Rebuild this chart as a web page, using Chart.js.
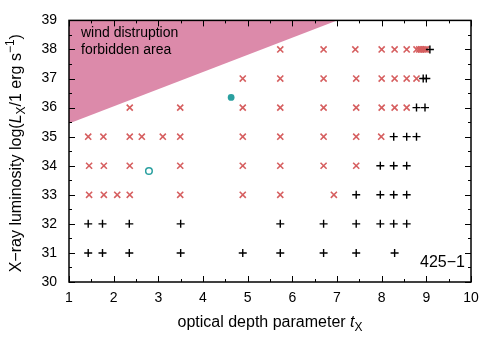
<!DOCTYPE html>
<html>
<head>
<meta charset="utf-8">
<script src="https://cdn.jsdelivr.net/npm/chart.js@4.4.1/dist/chart.umd.min.js"></script>
<style>
  html, body { margin: 0; padding: 0; background: #fff; }
  #wrap { width: 500px; height: 350px; }
</style>
</head>
<body>
<div id="wrap"><canvas id="depthChart" width="500" height="350"></canvas></div>
<script>
// luminosity levels log(Lx) and the tX values found at each level
const levels = [31, 32, 33, 34, 35, 36, 37, 38];
const crossT = [
  [],
  [],
  [1.45, 1.78, 2.08, 2.36, 3.49, 4.89, 5.73, 6.93],
  [1.45, 1.78, 2.36, 3.49, 4.89, 5.73, 6.70, 7.43],
  [1.43, 1.77, 2.36, 2.63, 3.10, 3.49, 4.89, 5.73, 6.70, 7.43, 7.99],
  [2.36, 3.49, 4.89, 5.73, 6.70, 7.43, 8.00, 8.29, 8.56],
  [4.89, 5.73, 6.70, 7.43, 8.00, 8.29, 8.56, 8.78],
  [5.73, 6.70, 7.41, 8.00, 8.29, 8.56, 8.78, 8.84, 8.88, 8.92, 8.96, 9.00]
];
const plusT = [
  [1.43, 1.75, 2.35, 3.50, 4.89, 5.73, 6.70, 7.43, 8.29],
  [1.43, 1.75, 2.35, 3.50, 5.73, 6.70, 7.43, 7.97, 8.27, 8.56],
  [7.43, 7.97, 8.27, 8.56],
  [7.97, 8.27, 8.56],
  [8.27, 8.56, 8.78],
  [8.78, 8.97],
  [8.93, 9.00],
  [9.08]
];
const openCircle = [2.79, 33.82];
const filledCircle = [4.63, 36.35];
// edge of the forbidden area
const forbiddenT = [1, 7];
const forbiddenL = [35.45, 39];
const xTicks = [1, 2, 3, 4, 5, 6, 7, 8, 9, 10];
const yTicks = [30, 31, 32, 33, 34, 35, 36, 37, 38, 39];

const FONT = "'Liberation Sans', Arial, sans-serif";

function toPoints(tLists) {
  const pts = [];
  levels.forEach((l, i) => {
    tLists[i].forEach(t => pts.push({ x: t, y: l }));
  });
  return pts;
}

function drawRich(ctx, parts, x, y, size) {
  const small = Math.round(size * 0.72);
  let total = 0;
  parts.forEach(p => {
    const fs = (p.s === 'sub' || p.s === 'sup') ? small : size;
    ctx.font = (p.i ? 'italic ' : '') + fs + 'px ' + FONT;
    p.w = ctx.measureText(p.t).width;
    total += p.w;
  });
  let cx = x - total / 2;
  ctx.textAlign = 'left';
  ctx.textBaseline = 'alphabetic';
  parts.forEach(p => {
    const fs = (p.s === 'sub' || p.s === 'sup') ? small : size;
    ctx.font = (p.i ? 'italic ' : '') + fs + 'px ' + FONT;
    let dy = 0;
    if (p.s === 'sub') dy = 4;
    if (p.s === 'sup') dy = -7;
    ctx.fillText(p.t, cx, y + dy);
    cx += p.w;
  });
}

const framePlugin = {
  id: 'frame',
  afterDraw(chart) {
    const ctx = chart.ctx;
    const a = chart.chartArea;
    const xs = chart.scales.x;
    const ys = chart.scales.y;
    ctx.save();
    ctx.strokeStyle = '#000';
    ctx.lineWidth = 1;
    ctx.beginPath();
    // inward ticks on all four sides
    for (let v = 1; v <= 10; v += 0.5) {
      const px = Math.round(xs.getPixelForValue(v)) + 0.5;
      const len = Number.isInteger(v) ? 6 : 3;
      ctx.moveTo(px, a.bottom); ctx.lineTo(px, a.bottom - len);
      ctx.moveTo(px, a.top); ctx.lineTo(px, a.top + len);
    }
    for (let v = 30; v <= 39; v += 0.5) {
      const py = Math.round(ys.getPixelForValue(v)) + 0.5;
      const len = Number.isInteger(v) ? 6 : 3;
      ctx.moveTo(a.left, py); ctx.lineTo(a.left + len, py);
      ctx.moveTo(a.right, py); ctx.lineTo(a.right - len, py);
    }
    ctx.stroke();
    ctx.lineWidth = 1.5;
    ctx.strokeRect(a.left, a.top, a.right - a.left, a.bottom - a.top);

    ctx.fillStyle = '#000';
    ctx.font = '14px ' + FONT;
    ctx.textAlign = 'left';
    ctx.textBaseline = 'middle';
    ctx.fillText('wind distruption', a.left + 12, a.top + 13);
    ctx.fillText('forbidden area', a.left + 12, a.top + 30);
    ctx.font = '16px ' + FONT;
    ctx.textAlign = 'right';
    ctx.fillText('425\u22121', a.right - 6, a.bottom - 19);

    drawRich(ctx, [
      { t: 'optical depth parameter ' },
      { t: 't', i: true },
      { t: 'X', s: 'sub' }
    ], (a.left + a.right) / 2, 327, 16);

    ctx.translate(21, (a.top + a.bottom) / 2 + 2);
    ctx.rotate(-Math.PI / 2);
    drawRich(ctx, [
      { t: 'X\u2212ray luminosity log(' },
      { t: 'L', i: true },
      { t: 'X', s: 'sub' },
      { t: '/1 erg s' },
      { t: '\u22121', s: 'sup' },
      { t: ')' }
    ], 0, 0, 16);
    ctx.restore();
  }
};

function renderizar_depth_chart() {
  const canvas = document.getElementById('depthChart').getContext('2d');
  const red = '#d65f60';
  const teal = '#2aa0a0';

  const datasets = [
    {
      label: 'stable',
      data: toPoints(plusT),
      pointStyle: 'cross',
      pointRadius: 4,
      borderColor: '#000',
      borderWidth: 1.4,
      showLine: false
    },
    {
      label: 'unstable',
      data: toPoints(crossT),
      pointStyle: 'crossRot',
      pointRadius: 4.3,
      borderColor: red,
      borderWidth: 1.6,
      showLine: false
    },
    {
      label: 'open',
      data: [{ x: openCircle[0], y: openCircle[1] }],
      pointStyle: 'circle',
      pointRadius: 3.3,
      borderColor: teal,
      backgroundColor: '#fff',
      borderWidth: 1.5,
      showLine: false
    },
    {
      label: 'open centre',
      data: [{ x: openCircle[0], y: openCircle[1] }],
      pointStyle: 'circle',
      pointRadius: 1,
      borderWidth: 0,
      backgroundColor: teal,
      showLine: false
    },
    {
      label: 'filled',
      data: [{ x: filledCircle[0], y: filledCircle[1] }],
      pointStyle: 'circle',
      pointRadius: 3.4,
      borderWidth: 0,
      backgroundColor: teal,
      showLine: false
    },
    {
      label: 'forbidden',
      data: forbiddenT.map((t, i) => ({ x: t, y: forbiddenL[i] })),
      showLine: true,
      pointRadius: 0,
      borderWidth: 0,
      borderColor: 'rgba(0,0,0,0)',
      backgroundColor: 'rgb(220,138,170)',
      fill: 'end'
    }
  ];

  new Chart(canvas, {
    type: 'scatter',
    data: { datasets: datasets },
    options: {
      responsive: false,
      animation: false,
      events: [],
      layout: { padding: { top: 19, right: 29, left: 0, bottom: 0 } },
      plugins: {
        legend: { display: false },
        tooltip: { enabled: false }
      },
      scales: {
        x: {
          type: 'linear',
          min: 1,
          max: 10,
          afterFit: s => { s.height = 68; },
          afterBuildTicks: s => { s.ticks = xTicks.map(v => ({ value: v })); },
          grid: { display: false, drawTicks: false },
          border: { display: false },
          ticks: { color: '#000', font: { size: 14, family: FONT }, padding: 8, maxRotation: 0 }
        },
        y: {
          type: 'linear',
          min: 30,
          max: 39,
          afterFit: s => { s.width = 69; },
          afterBuildTicks: s => { s.ticks = yTicks.map(v => ({ value: v })); },
          grid: { display: false, drawTicks: false },
          border: { display: false },
          ticks: { color: '#000', font: { size: 14, family: FONT }, padding: 12 }
        }
      }
    },
    plugins: [framePlugin]
  });
}

renderizar_depth_chart();
</script>
</body>
</html>
